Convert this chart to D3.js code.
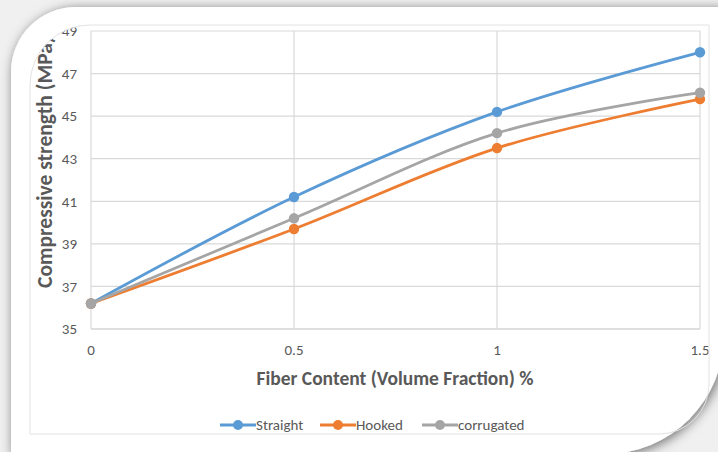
<!DOCTYPE html>
<html>
<head>
<meta charset="utf-8">
<script src="https://cdn.jsdelivr.net/npm/d3@7"></script>
<style>
  body { margin: 0; background: #fff; }
  text { font-family: Carlito, Calibri, Lato, sans-serif; }
</style>
</head>
<body>
<div id="chart"></div>
<script>
// fiber content vs compressive strength
var fiberContent = [0, 0.5, 1, 1.5];
var straight = [36.2, 41.2, 45.2, 48.0];
var hooked = [36.2, 39.7, 43.5, 45.8];
var corrugated = [36.2, 40.2, 44.2, 46.1];
var yTicks = [35, 37, 39, 41, 43, 45, 47, 49];
var xTicks = [0, 0.5, 1, 1.5];
var seriesNames = ['Straight', 'Hooked', 'corrugated'];

var series = [
  { name: seriesNames[0], values: straight, color: '#5B9BD5' },
  { name: seriesNames[1], values: hooked, color: '#ED7D31' },
  { name: seriesNames[2], values: corrugated, color: '#A5A5A5' }
];

var width = 718, height = 452;

var svg = d3.select('#chart').append('svg')
  .attr('width', width)
  .attr('height', height);

var defs = svg.append('defs');

var shadow = defs.append('filter')
  .attr('id', 'shadow')
  .attr('x', '-10%').attr('y', '-10%')
  .attr('width', '120%').attr('height', '120%');
shadow.append('feDropShadow')
  .attr('dx', 2).attr('dy', 2)
  .attr('stdDeviation', 6)
  .attr('flood-color', '#000')
  .attr('flood-opacity', 0.55);

// white card with two rounded corners
var cardPath = 'M11,72 A65,65 0 0 1 76,7 L724,7 L724,335 A119,119 0 0 1 605,454 L11,454 Z';
// the chart picture inside the card
var picPath = 'M30,85 A60,60 0 0 1 90,25 L709,25 L709,384 A50,50 0 0 1 659,434 L30,434 Z';

defs.append('clipPath').attr('id', 'picClip')
  .append('path').attr('d', picPath);

svg.append('rect')
  .attr('width', width).attr('height', height)
  .attr('fill', '#f0f0f0');

svg.append('path')
  .attr('d', cardPath)
  .attr('fill', '#fff')
  .attr('filter', 'url(#shadow)');

var pic = svg.append('g').attr('clip-path', 'url(#picClip)');

var x = d3.scaleLinear().domain([0, 1.5]).range([91, 700]);
var y = d3.scaleLinear().domain([35, 49]).range([329, 31]);

// gridlines
pic.selectAll('.hgrid')
  .data(yTicks)
  .enter().append('line')
    .attr('class', 'hgrid')
    .attr('x1', x(0)).attr('x2', x(1.5))
    .attr('y1', function(d) { return y(d); })
    .attr('y2', function(d) { return y(d); })
    .attr('stroke', function(d) { return d === 35 ? '#bfbfbf' : '#d9d9d9'; })
    .attr('stroke-width', 1.2);

pic.selectAll('.vgrid')
  .data(xTicks)
  .enter().append('line')
    .attr('class', 'vgrid')
    .attr('y1', y(35)).attr('y2', y(49))
    .attr('x1', function(d) { return x(d); })
    .attr('x2', function(d) { return x(d); })
    .attr('stroke', '#d9d9d9')
    .attr('stroke-width', 1.2);

// tick labels
pic.selectAll('.ylab')
  .data(yTicks)
  .enter().append('text')
    .attr('class', 'ylab')
    .attr('x', 77)
    .attr('y', function(d) { return y(d); })
    .attr('dy', '0.35em')
    .attr('text-anchor', 'end')
    .attr('font-size', 15)
    .attr('fill', '#595959')
    .text(function(d) { return d; });

pic.selectAll('.xlab')
  .data(xTicks)
  .enter().append('text')
    .attr('class', 'xlab')
    .attr('x', function(d) { return x(d); })
    .attr('y', 350)
    .attr('dy', '0.35em')
    .attr('text-anchor', 'middle')
    .attr('font-size', 15)
    .attr('fill', '#595959')
    .text(function(d) { return d; });

// axis titles
pic.append('text')
  .attr('x', 395).attr('y', 385)
  .attr('text-anchor', 'middle')
  .attr('font-size', 19.5)
  .attr('font-weight', 'bold')
  .attr('fill', '#595959')
  .text('Fiber Content (Volume Fraction) %');

pic.append('text')
  .attr('transform', 'translate(52,288) rotate(-90)')
  .attr('text-anchor', 'start')
  .attr('font-size', 21.5)
  .attr('font-weight', 'bold')
  .attr('fill', '#595959')
  .text('Compressive strength (MPa)');

// smooth lines
var line = d3.line()
  .x(function(d, i) { return x(fiberContent[i]); })
  .y(function(d) { return y(d); })
  .curve(d3.curveCatmullRom.alpha(0));

var groups = pic.selectAll('.series')
  .data(series)
  .enter().append('g')
    .attr('class', 'series');

groups.append('path')
  .attr('d', function(d) { return line(d.values); })
  .attr('fill', 'none')
  .attr('stroke', function(d) { return d.color; })
  .attr('stroke-width', 2.8);

groups.selectAll('circle')
  .data(function(d) { return d.values.map(function(v, i) { return { v: v, i: i, color: d.color }; }); })
  .enter().append('circle')
    .attr('cx', function(d) { return x(fiberContent[d.i]); })
    .attr('cy', function(d) { return y(d.v); })
    .attr('r', 5.2)
    .attr('fill', function(d) { return d.color; });

// legend
var legendX = [220, 320, 422];
var legend = pic.selectAll('.legend')
  .data(series)
  .enter().append('g')
    .attr('class', 'legend')
    .attr('transform', function(d, i) { return 'translate(' + legendX[i] + ',425)'; });

legend.append('line')
  .attr('x1', 0).attr('x2', 36)
  .attr('stroke', function(d) { return d.color; })
  .attr('stroke-width', 2.8);

legend.append('circle')
  .attr('cx', 18).attr('r', 5)
  .attr('fill', function(d) { return d.color; });

legend.append('text')
  .attr('x', 36)
  .attr('dy', '0.35em')
  .attr('font-size', 15)
  .attr('fill', '#595959')
  .text(function(d) { return d.name; });

// picture border
svg.append('path')
  .attr('d', picPath)
  .attr('fill', 'none')
  .attr('stroke', '#e2e2e2')
  .attr('stroke-width', 1);
</script>
</body>
</html>
